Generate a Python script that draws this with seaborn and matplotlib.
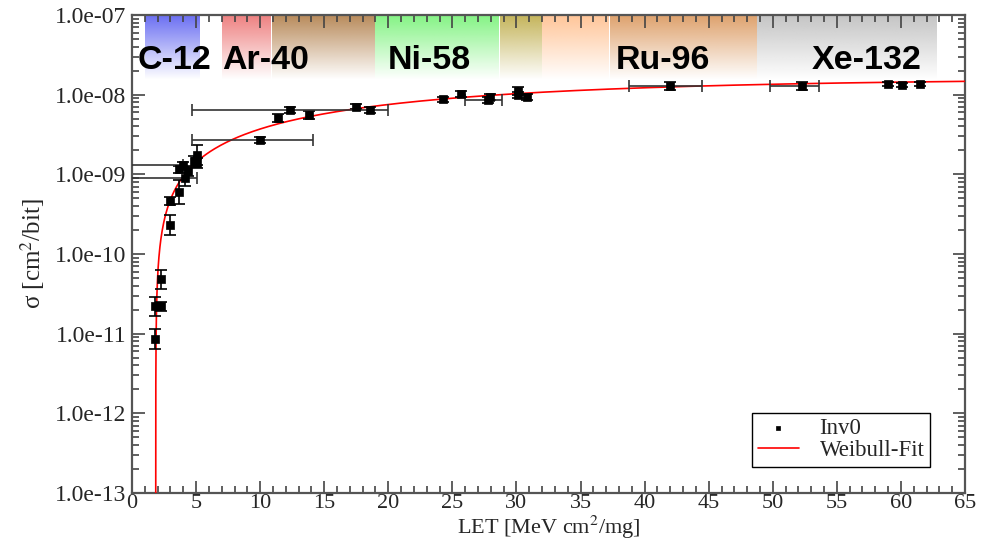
import numpy as np
import pandas as pd
import matplotlib
matplotlib.use("Agg")
import matplotlib.pyplot as plt
import seaborn as sns
from matplotlib.ticker import MultipleLocator, LogLocator, NullFormatter, FixedLocator, FixedFormatter

# ---------------- data ----------------
let_vals = [1.8, 1.8, 2.26, 2.26, 3.0, 3.0, 3.7, 4.1, 3.7, 4.0, 4.4, 4.8, 5.1, 5.1,
            10.0, 11.4, 12.3, 13.8, 17.5, 18.6, 24.3, 25.7, 27.8, 27.9, 30.1, 30.1,
            30.8, 42.0, 52.3, 59.0, 60.1, 61.5]
sigma_vals = [8.5e-12, 2.2e-11, 2.2e-11, 4.8e-11, 2.3e-10, 4.6e-10, 6.0e-10, 9.0e-10,
              1.15e-9, 1.3e-9, 1.1e-9, 1.45e-9, 1.75e-9, 1.4e-9,
              2.7e-9, 5.1e-9, 6.5e-9, 5.6e-9, 7.1e-9, 6.4e-9, 8.7e-9, 1.03e-8,
              8.6e-9, 9.4e-9, 1.12e-8, 1.0e-8, 9.3e-9, 1.3e-8, 1.28e-8, 1.36e-8,
              1.32e-8, 1.38e-8]
# multiplicative y-error factors
yerr_factor = [1.33, 1.33, 1.15, 1.33, 1.33, 1.12, 1.4, 1.25, 1.12, 1.1, 1.15, 1.18,
               1.33, 1.15, 1.09, 1.12, 1.09, 1.12, 1.09, 1.09, 1.09, 1.09, 1.09, 1.09,
               1.12, 1.09, 1.09, 1.12, 1.12, 1.06, 1.06, 1.06]
# horizontal error bars (lower, upper LET) for selected points
xerr_index = [7, 9, 14, 16, 22, 27, 28]
xerr_low = [-1.0, -1.0, 4.7, 4.7, 26.0, 38.8, 49.8]
xerr_high = [5.1, 4.0, 14.1, 20.0, 28.9, 44.5, 53.6]

# Weibull fit parameters
weib_sat = 1.6e-8
weib_L0 = 1.85
weib_W = 27.4
weib_s = 1.1

# ion bands (LET range) and colours
band_lo = [1.0, 7.0, 10.9, 19.0, 28.7, 32.0, 37.3, 48.8]
band_hi = [5.3, 10.9, 19.0, 28.7, 32.0, 37.3, 48.8, 62.9]
band_colors = ["#6a6ef2", "#ee8080", "#b88a5a", "#84f384", "#c4b45a", "#ffc598",
               "#dea16c", "#c4c4c4"]
ion_labels = ["C-12", "Ar-40", "Ni-58", "Ru-96", "Xe-132"]
ion_label_x = [3.35, 10.45, 23.2, 41.4, 57.3]

x_ticks = [0, 5, 10, 15, 20, 25, 30, 35, 40, 45, 50, 55, 60, 65]
y_ticks = [1e-13, 1e-12, 1e-11, 1e-10, 1e-9, 1e-8, 1e-7]
y_tick_labels = ["1.0e-13", "1.0e-12", "1.0e-11", "1.0e-10", "1.0e-09", "1.0e-08", "1.0e-07"]

# ---------------- figure ----------------
sns.set_style("ticks")
plt.rcParams["font.family"] = ["Liberation Serif", "DejaVu Serif"]
plt.rcParams["mathtext.fontset"] = "stix"

fig = plt.figure(figsize=(9.9, 5.42), dpi=100)
ax = fig.add_axes([132 / 990, 1 - 493 / 542, (965 - 132) / 990, (493 - 15) / 542])
ax.set_yscale("log")

# gradient bands at top
trans = ax.get_xaxis_transform()
n = 200
tgrid = np.linspace(0, 1, n)
alpha_profile = (1 - tgrid) ** 1.0
for lo, hi, col in zip(band_lo, band_hi, band_colors):
    rgb = matplotlib.colors.to_rgb(col)
    img = np.zeros((n, 1, 4))
    img[:, 0, 0] = rgb[0]
    img[:, 0, 1] = rgb[1]
    img[:, 0, 2] = rgb[2]
    img[:, 0, 3] = alpha_profile
    ax.imshow(img, extent=(lo, hi, 0.865, 1.0), transform=trans, aspect="auto",
              origin="upper", interpolation="bilinear", zorder=0)

for lab, lx in zip(ion_labels, ion_label_x):
    ax.text(lx, 0.905, lab, transform=trans, ha="center", va="center",
            fontsize=24.5, fontweight="bold", family=["Liberation Sans", "DejaVu Sans"],
            color="black", zorder=1)

# Weibull fit
dx = np.concatenate([np.geomspace(1e-9, 1, 300), np.linspace(1.01, 65 - weib_L0, 400)])
fit_x = weib_L0 + dx
fit_y = weib_sat * (1 - np.exp(-(dx / weib_W) ** weib_s))
fit_df = pd.DataFrame({"LET": fit_x, "sigma": fit_y})
sns.lineplot(data=fit_df, x="LET", y="sigma", ax=ax, color="red", lw=1.2,
             label="Weibull-Fit", zorder=3, sort=False, estimator=None)

# data with error bars
L = np.array(let_vals)
S = np.array(sigma_vals)
F = np.array(yerr_factor)
yerr = np.vstack([S - S / F, S * F - S])
ax.errorbar(L, S, yerr=yerr, fmt="none", ecolor="black", elinewidth=1.2,
            capsize=4, capthick=1.2, zorder=4)
xi = np.array(xerr_index)
xerr = np.vstack([L[xi] - np.array(xerr_low), np.array(xerr_high) - L[xi]])
ax.errorbar(L[xi], S[xi], xerr=xerr, fmt="none", ecolor="#333333", elinewidth=1.2,
            capsize=4, capthick=1.2, zorder=4)
pts_df = pd.DataFrame({"LET": L, "sigma": S})
sns.scatterplot(data=pts_df, x="LET", y="sigma", ax=ax, marker="s", s=30,
                color="black", edgecolor="black", linewidth=0.5, label="Inv0", zorder=5)

# axes
ax.set_xlim(0, 65)
ax.set_ylim(1e-13, 1e-7)
ax.xaxis.set_major_locator(FixedLocator(x_ticks))
ax.xaxis.set_minor_locator(MultipleLocator(1))
ax.yaxis.set_major_locator(FixedLocator(y_ticks))
ax.yaxis.set_major_formatter(FixedFormatter(y_tick_labels))
ax.yaxis.set_minor_locator(LogLocator(base=10, subs=np.arange(2, 10), numticks=20))
ax.yaxis.set_minor_formatter(NullFormatter())
ax.tick_params(which="both", direction="in", top=True, right=True, color="#444444",
               width=1.2)
ax.tick_params(which="major", length=9)
ax.tick_params(axis="x", pad=1, labelsize=16)
ax.tick_params(axis="y", pad=4, labelsize=17)
ax.tick_params(which="minor", length=5)
for sp in ax.spines.values():
    sp.set_color("#555555")
    sp.set_linewidth(1.6)

ax.set_xlabel("LET [MeV cm$^2$/mg]", fontsize=16, labelpad=0)
ax.set_ylabel("σ [cm$^2$/bit]", fontsize=18, labelpad=6)

# legend
handles, labels = ax.get_legend_handles_labels()
order = [labels.index("Inv0"), labels.index("Weibull-Fit")]
leg = ax.legend([handles[i] for i in order], [labels[i] for i in order],
                loc="lower right", bbox_to_anchor=(0.972, 0.03), fontsize=16.5,
                frameon=True, fancybox=False, edgecolor="black", framealpha=1,
                handlelength=1.8, handletextpad=0.9, borderpad=0.25,
                labelspacing=0.05, markerscale=0.6)
leg.get_frame().set_linewidth(1.0)

fig.savefig("out.png", dpi=100, facecolor="white")
